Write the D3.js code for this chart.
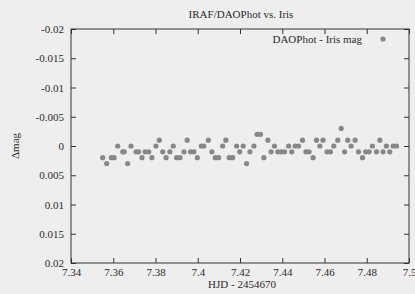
<!DOCTYPE html>
<html>
<head>
<meta charset="utf-8">
<script src="https://cdn.jsdelivr.net/npm/d3@7"></script>
<style>
  body { margin: 0; background: #eeeeee; }
  svg text { font-family: "Liberation Serif", "DejaVu Serif", serif; fill: #2a2a2a; }
</style>
</head>
<body>
<svg id="chart" width="415" height="294"></svg>
<script>
// HJD - 2454670
const hjd = [
  7.3550, 7.3569, 7.3591, 7.3604, 7.3621, 7.3645, 7.3652, 7.3668, 7.3684, 7.3708,
  7.3720, 7.3736, 7.3751, 7.3768, 7.3783, 7.3802, 7.3818, 7.3834, 7.3850, 7.3868,
  7.3884, 7.3900, 7.3916, 7.3935, 7.3950, 7.3966, 7.3982, 7.3998, 7.4017, 7.4029,
  7.4050, 7.4067, 7.4083, 7.4099, 7.4118, 7.4133, 7.4149, 7.4165, 7.4184, 7.4199,
  7.4215, 7.4231, 7.4247, 7.4266, 7.4281, 7.4297, 7.4313, 7.4332, 7.4347, 7.4363,
  7.4379, 7.4395, 7.4411, 7.4430, 7.4445, 7.4461, 7.4477, 7.4496, 7.4512, 7.4527,
  7.4546, 7.4562, 7.4578, 7.4593, 7.4612, 7.4628, 7.4644, 7.4663, 7.4679, 7.4695,
  7.4710, 7.4726, 7.4745, 7.4761, 7.4780, 7.4795, 7.4811, 7.4827, 7.4846, 7.4862,
  7.4877, 7.4893, 7.4909, 7.4925, 7.4941
]
// DAOPhot - Iris mag
const dmag = [
  0.002, 0.003, 0.002, 0.002, 0.000, 0.001, 0.001, 0.003, 0.000, 0.001,
  0.001, 0.002, 0.001, 0.001, 0.002, 0.000, -0.001, 0.001, 0.002, 0.001,
  0.000, 0.002, 0.002, 0.001, -0.001, 0.001, 0.001, 0.002, 0.000, 0.000,
  -0.001, 0.001, 0.002, 0.002, 0.000, -0.001, 0.002, 0.002, 0.000, 0.001,
  0.000, 0.003, 0.001, 0.000, -0.002, -0.002, 0.002, -0.001, 0.001, 0.000,
  0.001, 0.001, 0.001, 0.000, 0.001, 0.000, 0.000, -0.001, 0.001, 0.001,
  0.002, -0.001, 0.000, -0.001, 0.001, 0.001, 0.000, -0.001, -0.003, 0.001,
  -0.001, 0.000, -0.001, 0.001, 0.002, 0.001, 0.001, 0.000, 0.001, -0.001,
  0.001, 0.000, 0.001, 0.000, 0.000
]

const xTicks = [7.34, 7.36, 7.38, 7.4, 7.42, 7.44, 7.46, 7.48, 7.5]
const yTicks = [-0.02, -0.015, -0.01, -0.005, 0, 0.005, 0.01, 0.015, 0.02]

const margin = {top: 29, right: 6, bottom: 31, left: 71}
const W = 415, H = 294
const w = W - margin.left - margin.right
const h = H - margin.top - margin.bottom

const svg = d3.select('#chart')
const g = svg.append('g').attr('transform', `translate(${margin.left},${margin.top})`)

const x = d3.scaleLinear().domain([7.34, 7.5]).range([0, w])
// inverted: -0.02 at top
const y = d3.scaleLinear().domain([-0.02, 0.02]).range([0, h])

const fmt = d => String(+d.toFixed(3))

// bottom axis with labels, ticks pointing inward
g.append('g')
  .attr('transform', `translate(0,${h})`)
  .call(d3.axisBottom(x).tickValues(xTicks).tickFormat(fmt).tickSizeInner(-5).tickSizeOuter(0).tickPadding(5))
g.append('g')
  .call(d3.axisTop(x).tickValues(xTicks).tickFormat('').tickSizeInner(-5).tickSizeOuter(0))
g.append('g')
  .call(d3.axisLeft(y).tickValues(yTicks).tickFormat(fmt).tickSizeInner(-5).tickSizeOuter(0).tickPadding(7))
g.append('g')
  .attr('transform', `translate(${w},0)`)
  .call(d3.axisRight(y).tickValues(yTicks).tickFormat('').tickSizeInner(-5).tickSizeOuter(0))

g.selectAll('.domain').remove()
g.selectAll('.tick line').attr('stroke', '#333')
g.selectAll('.tick text')
  .style('font-family', '"Liberation Serif", serif')
  .style('font-size', '11px')
  .attr('fill', '#2a2a2a')

g.append('rect')
  .attr('width', w).attr('height', h)
  .attr('fill', 'none')
  .attr('stroke', '#333')
  .attr('stroke-width', 1)

// points
g.selectAll('.pt')
  .data(hjd)
  .enter()
  .append('circle')
  .attr('class', 'pt')
  .attr('cx', d => x(d))
  .attr('cy', (d, i) => y(dmag[i]))
  .attr('r', 2.6)
  .attr('fill', '#878787')

// legend
svg.append('text')
  .attr('x', 362).attr('y', 43)
  .attr('text-anchor', 'end')
  .style('font-size', '11px')
  .text('DAOPhot - Iris mag')
svg.append('circle')
  .attr('cx', 383).attr('cy', 39)
  .attr('r', 2.6)
  .attr('fill', '#878787')

// title and axis labels
svg.append('text')
  .attr('x', 241).attr('y', 18)
  .attr('text-anchor', 'middle')
  .style('font-size', '11px')
  .text('IRAF/DAOPhot vs. Iris')
svg.append('text')
  .attr('x', 242).attr('y', 288)
  .attr('text-anchor', 'middle')
  .style('font-size', '11px')
  .text('HJD - 2454670')
svg.append('text')
  .attr('transform', 'translate(19,146) rotate(-90)')
  .attr('text-anchor', 'middle')
  .style('font-size', '11px')
  .text('Δmag')
</script>
</body>
</html>
